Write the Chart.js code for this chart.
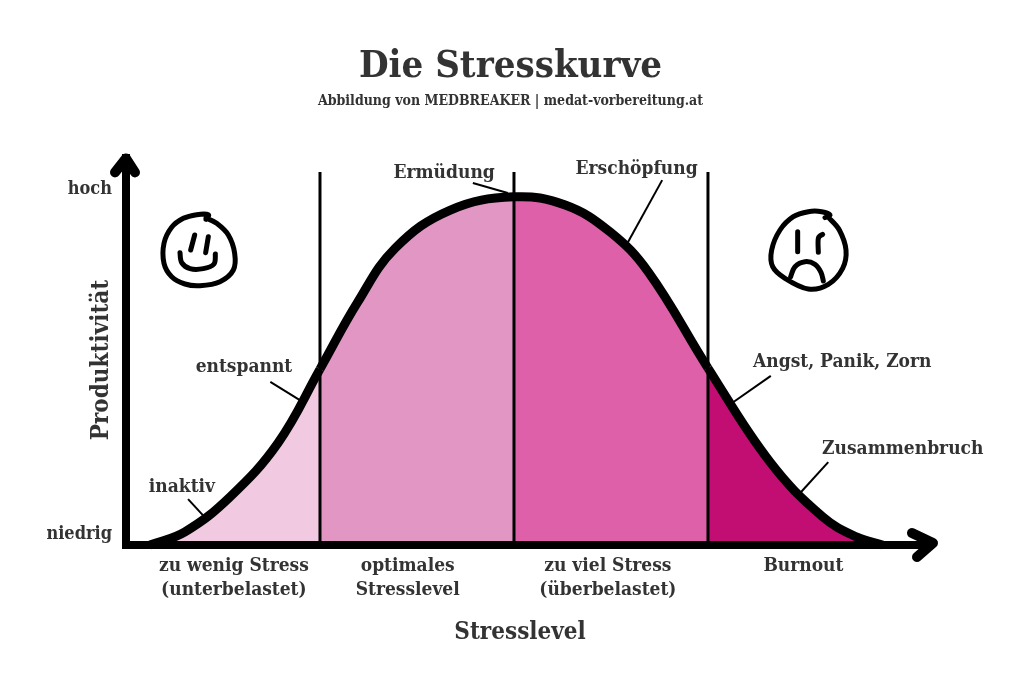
<!DOCTYPE html>
<html lang="de">
<head>
<meta charset="utf-8">
<title>Die Stresskurve</title>
<script src="https://cdn.jsdelivr.net/npm/chart.js@4"></script>
<style>
  html, body { margin: 0; padding: 0; background: #fff; }
  canvas { display: block; }
</style>
</head>
<body>
<canvas id="myChart" width="1024" height="690"></canvas>
<script>
// values: stress 0-100 (25 per zone), productivity 0-100 (100 = hoch)
const stress = [3.1, 7.6, 13.4, 19.6, 25, 29.8, 34.7, 41.8, 50, 56.6, 62.4, 67.3, 75, 83, 89.8, 94.2, 97.5];
const productivity = [0, 3.7, 13.5, 28.7, 49.4, 68.0, 83.4, 94.1, 97.8, 95.5, 87.9, 76.7, 49.7, 23.3, 7.9, 2.2, 0];

const zoneLimits = [25, 50, 75];
const zoneColors = ['#f1c9e0', '#e296c4', '#de60a9', '#c20e72'];
const zoneLabels = [['zu wenig Stress', '(unterbelastet)'], ['optimales', 'Stresslevel'], ['zu viel Stress', '(überbelastet)'], ['Burnout']];
const zoneLabelX = [13.9, 36.3, 62.1, 87.3];
const dividerTop = 104.8;

const yTickValues = [3, 100];
const yTickLabels = ['niedrig', 'hoch'];

const noteTexts = ['Ermüdung', 'Erschöpfung', 'entspannt', 'inaktiv', 'Angst, Panik, Zorn', 'Zusammenbruch'];
const noteX = [41.0, 65.8, 15.2, 7.2, 92.3, 100.1];
const noteY = [104.5, 105.6, 50, 16.3, 51.4, 27.0];
const leaderX = [[44.7, 49.2], [69.1, 64.7], [18.6, 22.4], [8.0, 9.9], [83.1, 78.1], [90.5, 87.0]];
const leaderY = [[101.7, 98.9], [102.5, 85.1], [45.8, 40.7], [12.9, 8.4], [47.5, 39.9], [23.3, 14.9]];

const textColor = '#333333';
const fontName = '"DejaVu Serif Condensed", "DejaVu Serif", serif';

function zoneColor(x) {
    var i = 0;
    while (i < zoneLimits.length && x >= zoneLimits[i]) i++;
    return zoneColors[i];
}

var datasets = [];
// curve and the coloured zones under it, one line so both follow the same spline
datasets.push({
    data: stress.map((x, i) => ({ x: x, y: productivity[i] })),
    borderColor: '#000',
    borderWidth: 9,
    borderCapStyle: 'butt',
    borderJoinStyle: 'round',
    tension: 0.4,
    fill: 'origin',
    backgroundColor: zoneColors[0],
    segment: { backgroundColor: ctx => zoneColor(ctx.p0.parsed.x) },
    order: 5
});
zoneLimits.forEach(x => {
    datasets.push({
        data: [{ x: x, y: 0 }, { x: x, y: dividerTop }],
        borderColor: '#000',
        borderWidth: 3,
        order: 3
    });
});
leaderX.forEach((xs, i) => {
    datasets.push({
        data: xs.map((x, k) => ({ x: x, y: leaderY[i][k] })),
        borderColor: '#000',
        borderWidth: 2,
        order: 2
    });
});

function sketch(ctx, pts) {
    // pen line through the points (catmull-rom)
    ctx.beginPath();
    ctx.moveTo(pts[0][0], pts[0][1]);
    for (var i = 0; i < pts.length - 1; i++) {
        const p0 = pts[Math.max(i - 1, 0)], p1 = pts[i], p2 = pts[i + 1], p3 = pts[Math.min(i + 2, pts.length - 1)];
        ctx.bezierCurveTo(
            p1[0] + (p2[0] - p0[0]) / 6, p1[1] + (p2[1] - p0[1]) / 6,
            p2[0] - (p3[0] - p1[0]) / 6, p2[1] - (p3[1] - p1[1]) / 6,
            p2[0], p2[1]);
    }
    ctx.stroke();
}

const happyFace = [
    [[318, 238], [325, 224], [290, 224], [250, 235], [215, 262], [192, 310], [192, 370], [215, 410], [255, 432], [300, 437], [360, 425], [400, 390], [404, 340], [385, 285], [350, 250], [318, 234]],
    [[284, 285], [272, 330]],
    [[325, 290], [317, 338]],
    [[240, 338], [245, 368], [270, 386], [310, 386], [342, 372], [346, 342]]
];
const sadFace = [
    [[225, 68], [240, 60], [215, 50], [175, 50], [130, 65], [90, 105], [65, 165], [68, 215], [105, 250], [175, 282], [235, 268], [278, 220], [288, 165], [268, 105], [238, 70]],
    [[143, 110], [143, 170]],
    [[218, 118], [205, 130], [205, 172]],
    [[122, 245], [135, 215], [165, 200], [195, 208], [213, 232], [220, 258]]
];

const extras = {
    id: 'extras',
    afterLayout: chart => {
        // the tick labels are wider than the kept box, let them show
        chart.scales.y.left = 0;
    },
    afterDraw: chart => {
        const ctx = chart.ctx;
        const sx = chart.scales.x;
        const sy = chart.scales.y;
        ctx.save();

        // arrow heads on the axes
        ctx.strokeStyle = '#000';
        ctx.lineWidth = 10;
        ctx.lineCap = 'round';
        ctx.lineJoin = 'round';
        const l = sx.left, b = sy.bottom;
        ctx.beginPath();
        ctx.moveTo(l - 11, sy.top + 14);
        ctx.lineTo(l, sy.top);
        ctx.lineTo(l + 9, sy.top + 14);
        ctx.stroke();
        ctx.beginPath();
        ctx.moveTo(sx.right - 21, b - 12);
        ctx.lineTo(sx.right, b - 2);
        ctx.lineTo(sx.right - 16, b + 12);
        ctx.stroke();

        // faces, in zoomed sketch units
        ctx.lineWidth = 15;
        ctx.save();
        ctx.translate(100, 140);
        ctx.scale(1 / 3, 1 / 3);
        happyFace.forEach(p => sketch(ctx, p));
        ctx.restore();
        ctx.save();
        ctx.translate(750, 195);
        ctx.scale(1 / 3, 1 / 3);
        sadFace.forEach(p => sketch(ctx, p));
        ctx.restore();

        // notes next to the curve
        ctx.fillStyle = textColor;
        ctx.textAlign = 'center';
        ctx.textBaseline = 'middle';
        ctx.font = 'bold 19px ' + fontName;
        noteTexts.forEach((t, i) => {
            ctx.fillText(t, sx.getPixelForValue(noteX[i]), sy.getPixelForValue(noteY[i]));
        });

        // axis names
        ctx.font = 'bold 24px ' + fontName;
        ctx.fillText('Stresslevel', 520, 633);
        ctx.translate(102, 360);
        ctx.rotate(-Math.PI / 2);
        ctx.fillText('Produktivität', 0, 0);
        ctx.restore();
    }
};

const myChart = new Chart(document.getElementById('myChart').getContext('2d'), {
    type: 'line',
    data: { datasets: datasets },
    options: {
        responsive: false,
        animation: false,
        events: [],
        clip: false,
        layout: { padding: { left: 88, right: 91, top: 0, bottom: 0 } },
        elements: { point: { radius: 0 } },
        plugins: {
            legend: { display: false },
            tooltip: { enabled: false },
            title: {
                display: true,
                text: 'Die Stresskurve',
                color: textColor,
                font: { family: fontName, size: 38, weight: 'bold' },
                padding: { top: 44, bottom: 3 }
            },
            subtitle: {
                display: true,
                text: 'Abbildung von MEDBREAKER | medat-vorbereitung.at',
                color: textColor,
                font: { family: fontName, size: 14, weight: 'bold' },
                padding: { top: 0, bottom: 49 }
            }
        },
        scales: {
            x: {
                type: 'linear',
                min: 0,
                max: 104,
                grid: { display: false, drawTicks: false },
                border: { display: true, color: '#000', width: 8, z: 5 },
                afterFit: scale => { scale.height = 145; },
                afterBuildTicks: scale => { scale.ticks = zoneLabelX.map(v => ({ value: v })); },
                ticks: {
                    autoSkip: false,
                    maxRotation: 0,
                    minRotation: 0,
                    padding: 9,
                    color: textColor,
                    font: { family: fontName, size: 19, weight: 'bold', lineHeight: 1.26 },
                    callback: (value, index) => zoneLabels[index]
                }
            },
            y: {
                type: 'linear',
                min: 0,
                max: 108.6,
                grid: { display: false, drawTicks: false },
                border: { display: true, color: '#000', width: 8, z: 5 },
                afterFit: scale => { scale.width = 38; },
                afterBuildTicks: scale => { scale.ticks = yTickValues.map(v => ({ value: v })); },
                ticks: {
                    autoSkip: false,
                    padding: 14,
                    color: textColor,
                    font: { family: fontName, size: 18, weight: 'bold' },
                    callback: (value, index) => yTickLabels[index]
                }
            }
        }
    },
    plugins: [extras]
});
</script>
</body>
</html>
